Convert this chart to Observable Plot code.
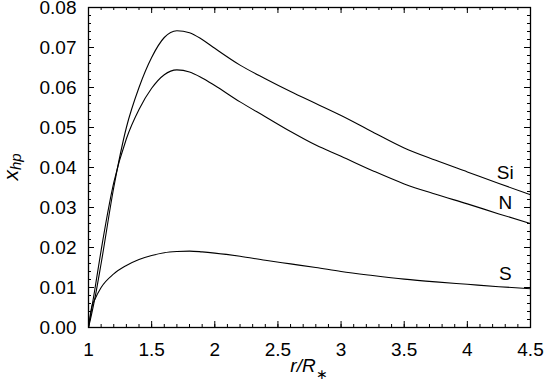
<!DOCTYPE html>
<html><head><meta charset="utf-8">
<script src="https://cdn.jsdelivr.net/npm/d3@7"></script>
<script src="https://cdn.jsdelivr.net/npm/@observablehq/plot@0.6"></script>
<style>html,body{margin:0;padding:0;background:#fff}svg{display:block}</style>
</head><body><div id="chart"></div>
<script>
// r/R* grid and series values (x_hp)
const rGrid    = [1.00,1.025,1.05,1.10,1.20,1.30,1.40,1.50,1.60,1.70,1.80,1.90,2.00,2.20,2.40,2.60,2.80,3.00,3.25,3.50,3.75,4.00,4.25,4.50];
const siValues = [0,0.0034,0.0072,0.0160,0.0350,0.0500,0.0600,0.0675,0.0725,0.0742,0.0737,0.0720,0.0698,0.0656,0.0622,0.0590,0.0560,0.0530,0.0489,0.0449,0.0418,0.0389,0.0360,0.0332];
const nValues  = [0,0.0047,0.0095,0.0193,0.0362,0.0472,0.0545,0.0598,0.0632,0.0644,0.0639,0.0624,0.0605,0.0564,0.0527,0.0490,0.0456,0.0428,0.0392,0.0359,0.0333,0.0309,0.0284,0.0260];
const sValues  = [0,0.0051,0.0070,0.0100,0.0134,0.0155,0.0170,0.0180,0.0187,0.0190,0.0191,0.0189,0.0186,0.0178,0.0168,0.0159,0.0150,0.0140,0.0130,0.0121,0.0114,0.0108,0.0102,0.0097];
const seriesNames = ["Si","N","S"];
const seriesValues = [siValues, nValues, sValues];
const xTicks = [1,1.5,2,2.5,3,3.5,4,4.5];
const yTicks = [0,0.01,0.02,0.03,0.04,0.05,0.06,0.07,0.08];
const xMinor = d3.range(10,46).map(d => d/10);
const yMinor = d3.range(0,41).map(d => d*0.002);
const labelR = 4.3;

const rows = [];
seriesNames.forEach((name, i) => rGrid.forEach((r, j) => rows.push({series: name, r, v: seriesValues[i][j]})));
const labels = seriesNames.map((name, i) => {
  const interp = d3.scaleLinear().domain(rGrid).range(seriesValues[i]);
  return {series: name, r: labelR, v: interp(labelR)};
});

const W = 546, H = 385, mL = 88, mR = 16, mT = 7, mB = 58;
const pw = W - mL - mR, ph = H - mT - mB;
const xDom = [1, 4.5], yDom = [0, 0.08];
// tick lengths converted from pixels to data units
const xpp = (xDom[1] - xDom[0]) / pw, ypp = (yDom[1] - yDom[0]) / ph;
const major = 6, minor = 3;
const font = "'Liberation Sans', Arial, Helvetica, sans-serif";
const tickRulesX = (ticks, len) => [
  Plot.ruleX(ticks, {x: d => d, y1: yDom[0], y2: yDom[0] + len * ypp, stroke: "black", strokeWidth: 1}),
  Plot.ruleX(ticks, {x: d => d, y1: yDom[1] - len * ypp, y2: yDom[1], stroke: "black", strokeWidth: 1})
];
const tickRulesY = (ticks, len) => [
  Plot.ruleY(ticks, {y: d => d, x1: xDom[0], x2: xDom[0] + len * xpp, stroke: "black", strokeWidth: 1}),
  Plot.ruleY(ticks, {y: d => d, x1: xDom[1] - len * xpp, x2: xDom[1], stroke: "black", strokeWidth: 1})
];
const plot = Plot.plot({
  width: W, height: H,
  marginLeft: mL, marginRight: mR, marginTop: mT, marginBottom: mB,
  style: {fontFamily: font, fontSize: "19px", background: "#fff", color: "#000"},
  x: {domain: xDom, axis: null},
  y: {domain: yDom, axis: null},
  marks: [
    Plot.axisX({anchor: "bottom", ticks: xTicks, tickSize: 0, tickPadding: 15, label: null, tickFormat: d => String(d), fontSize: 19}),
    Plot.axisY({anchor: "left", ticks: yTicks, tickSize: 0, tickPadding: 12, label: null, tickFormat: d3.format(".2f"), fontSize: 19}),
    ...tickRulesX(xTicks, major),
    ...tickRulesX(xMinor, minor),
    ...tickRulesY(yTicks, major),
    ...tickRulesY(yMinor, minor),
    Plot.line(rows, {x: "r", y: "v", z: "series", stroke: "black", strokeWidth: 1.1, curve: "monotone-x"}),
    Plot.text(labels, {x: "r", y: "v", text: "series", dy: -13, fill: "black", fontSize: 19, textAnchor: "middle", lineAnchor: "middle"}),
    Plot.frame({stroke: "black", strokeWidth: 1.3})
  ]
});
document.getElementById("chart").appendChild(plot);

// axis titles with italics and subscripts
const svg = d3.select(plot);
const xs = plot.scale("x"), ys = plot.scale("y");
const cx = (xs.range[0] + xs.range[1]) / 2;
const cy = (ys.range[0] + ys.range[1]) / 2;
const xt = svg.append("text").attr("x", cx).attr("y", 372).attr("text-anchor", "middle")
  .attr("font-family", font).attr("font-size", 19).attr("font-style", "italic").attr("fill", "#000");
xt.append("tspan").text("r/R");
xt.append("tspan").attr("dy", 7).attr("font-style", "normal").attr("font-size", 14).text("\u2217");
const yt = svg.append("text").attr("transform", `translate(18,${cy}) rotate(-90)`).attr("text-anchor", "middle")
  .attr("font-family", font).attr("font-size", 21).attr("font-style", "italic").attr("fill", "#000");
yt.append("tspan").text("x");
yt.append("tspan").attr("dy", 3).attr("font-size", 15).text("hp");
</script>
</body></html>
